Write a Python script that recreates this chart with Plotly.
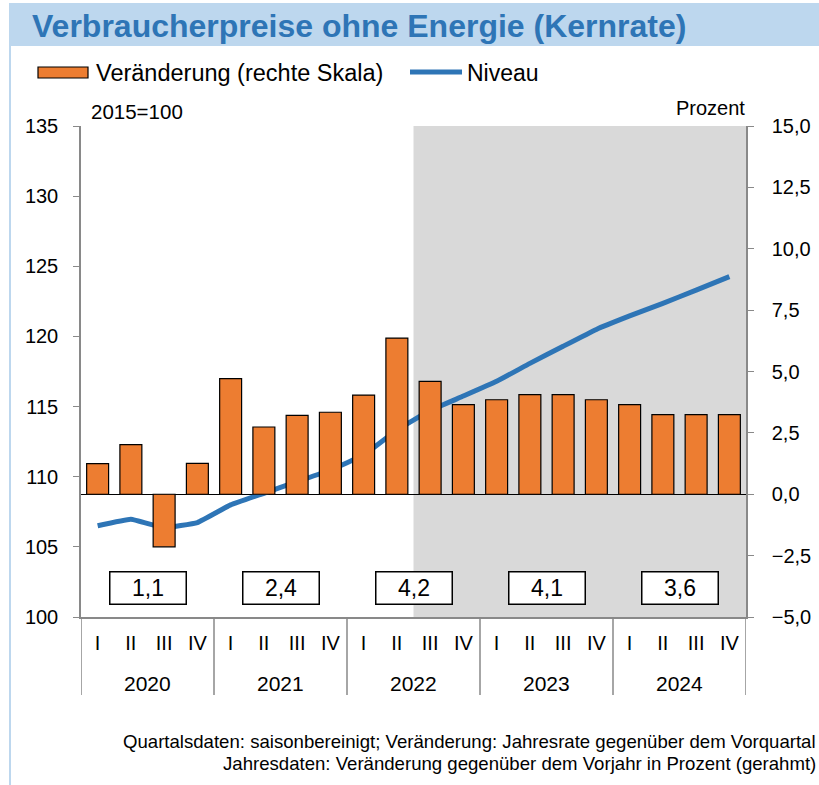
import plotly.graph_objects as go

years = ["2020", "2021", "2022", "2023", "2024"]
quarters = ["I", "II", "III", "IV"]
change_pct = [1.25, 2.02, -2.14, 1.26, 4.71, 2.74, 3.21, 3.34, 4.04, 6.36,
              4.60, 3.65, 3.85, 4.06, 4.06, 3.85, 3.65, 3.24, 3.24, 3.24]
level_idx = [106.5, 106.97, 106.37, 106.73, 107.99, 108.82, 109.65, 110.48, 111.55, 113.33,
             114.72, 115.75, 116.8, 118.08, 119.3, 120.5, 121.46, 122.36, 123.3, 124.26]
annual_pct = ["1,1", "2,4", "4,2", "4,1", "3,6"]
forecast_start = ("2022", "III")

x_years = [y for y in years for q in quarters]
x_quarters = [q for y in years for q in quarters]
n = len(x_years)
xi = list(range(n))
nq = len(quarters)

ORANGE = "#ED7D31"
BLUE = "#2E75B6"
BAND = "#BDD7EE"
GRAY = "#D9D9D9"
AXIS = "#898989"
FONT = "Liberation Sans, Arial"

fig = go.Figure()
fig.add_trace(go.Bar(x=xi, y=change_pct, yaxis="y2",
                     marker=dict(color=ORANGE, line=dict(color="#000000", width=1.2)),
                     name="Veränderung (rechte Skala)", showlegend=False))
fig.add_trace(go.Scatter(x=xi, y=level_idx, yaxis="y", mode="lines",
                         line=dict(color=BLUE, width=5, shape="spline", smoothing=0.3),
                         name="Niveau", showlegend=False))

L, R, T, B = 81, 73, 126, 168
W, H = 819, 785
pw, ph = W - L - R, H - T - B
def px(x):
    return (x - L) / pw
def py(y):
    return (H - B - y) / ph

start_i = [i for i in range(n) if (x_years[i], x_quarters[i]) == forecast_start][0]
shapes = [
    dict(type="rect", xref="x", yref="paper", x0=start_i - 0.5, x1=n - 0.5, y0=0, y1=1,
         fillcolor=GRAY, line=dict(width=0), layer="below"),
    dict(type="rect", xref="paper", yref="paper", x0=px(9), x1=px(819), y0=py(3), y1=py(46),
         fillcolor=BAND, line=dict(width=0), layer="above"),
    dict(type="line", xref="paper", yref="paper", x0=px(10), x1=px(10), y0=py(46), y1=py(785),
         line=dict(color=BAND, width=2)),
    dict(type="rect", xref="paper", yref="paper", x0=px(38), x1=px(88), y0=py(78), y1=py(67),
         fillcolor=ORANGE, line=dict(color="#000000", width=1.2)),
    dict(type="line", xref="paper", yref="paper", x0=px(410), x1=px(462), y0=py(72), y1=py(72),
         line=dict(color=BLUE, width=5)),
]
# year dividers below the axis
for k in range(len(years) + 1):
    shapes.append(dict(type="line", xref="x", yref="paper", x0=k * nq - 0.5, x1=k * nq - 0.5,
                       y0=0, y1=py(695), line=dict(color=AXIS, width=1.5)))

ann = [
    dict(text="<b>Verbraucherpreise ohne Energie (Kernrate)</b>", xref="paper", yref="paper",
         x=px(30), y=py(26), xanchor="left", yanchor="middle", showarrow=False,
         font=dict(family=FONT, size=32, color=BLUE)),
    dict(text="Veränderung (rechte Skala)", xref="paper", yref="paper", x=px(94), y=py(73),
         xanchor="left", yanchor="middle", showarrow=False, font=dict(family=FONT, size=23.5, color="#000")),
    dict(text="Niveau", xref="paper", yref="paper", x=px(465), y=py(73),
         xanchor="left", yanchor="middle", showarrow=False, font=dict(family=FONT, size=23, color="#000")),
    dict(text="2015=100", xref="paper", yref="paper", x=px(89), y=py(111),
         xanchor="left", yanchor="middle", showarrow=False, font=dict(family=FONT, size=20.5, color="#000")),
    dict(text="Prozent", xref="paper", yref="paper", x=px(747), y=py(108),
         xanchor="right", yanchor="middle", showarrow=False, font=dict(family=FONT, size=20, color="#000")),
    dict(text="Quartalsdaten: saisonbereinigt; Veränderung: Jahresrate gegenüber dem Vorquartal",
         xref="paper", yref="paper", x=px(818), y=py(741), xanchor="right", yanchor="middle",
         showarrow=False, font=dict(family=FONT, size=18.6, color="#000")),
    dict(text="Jahresdaten: Veränderung gegenüber dem Vorjahr in Prozent (gerahmt)",
         xref="paper", yref="paper", x=px(818), y=py(763), xanchor="right", yanchor="middle",
         showarrow=False, font=dict(family=FONT, size=18.6, color="#000")),
]
for k, y in enumerate(years):
    ann.append(dict(text=y, xref="x", yref="paper", x=k * nq + (nq - 1) / 2, y=py(683),
                    xanchor="center", yanchor="middle", showarrow=False,
                    font=dict(family=FONT, size=21, color="#000")))
for k, v in enumerate(annual_pct):
    ann.append(dict(text=v, xref="x", yref="paper", x=k * nq + (nq - 1) / 2, y=py(588),
                    xanchor="center", yanchor="middle", showarrow=False,
                    width=72, height=28, bordercolor="#000", borderwidth=1.5, borderpad=1.5,
                    bgcolor="#FFFFFF", font=dict(family=FONT, size=23, color="#000")))

fig.update_layout(
    width=W, height=H, autosize=False, margin=dict(l=L, r=R, t=T, b=B, pad=0, autoexpand=False),
    paper_bgcolor="#FFFFFF", plot_bgcolor="#FFFFFF",
    separators=",.", bargap=0.34, showlegend=False,
    shapes=shapes, annotations=ann,
    xaxis=dict(range=[-0.5, n - 0.5], tickvals=xi, ticktext=x_quarters, showline=True,
               linecolor=AXIS, linewidth=1.5, ticks="outside", ticklen=0, showgrid=False,
               zeroline=False, ticklabelstandoff=7, automargin=False,
               tickfont=dict(family=FONT, size=20, color="#000")),
    yaxis=dict(range=[100, 135], dtick=5, tick0=100, showline=True, linecolor=AXIS, linewidth=1.5,
               ticks="outside", ticklen=6, tickcolor=AXIS, showgrid=False, zeroline=False,
               ticklabelstandoff=11, automargin=False, tickfont=dict(family=FONT, size=20, color="#000")),
    yaxis2=dict(range=[-5, 15], dtick=2.5, tick0=-5, tickformat=".1f", overlaying="y", side="right",
                showline=True, linecolor=AXIS, linewidth=1.5, ticks="outside", ticklen=6, tickcolor=AXIS,
                showgrid=False, zeroline=True, zerolinecolor="#000", zerolinewidth=1.2,
                ticklabelstandoff=14, automargin=False, tickfont=dict(family=FONT, size=20, color="#000")),
)
fig.write_html("out.html", config={"displayModeBar": False, "responsive": False},
               post_script="document.body.style.margin='0px';"
                           "document.documentElement.style.overflow='hidden';"
                           "document.body.style.overflow='hidden';")
